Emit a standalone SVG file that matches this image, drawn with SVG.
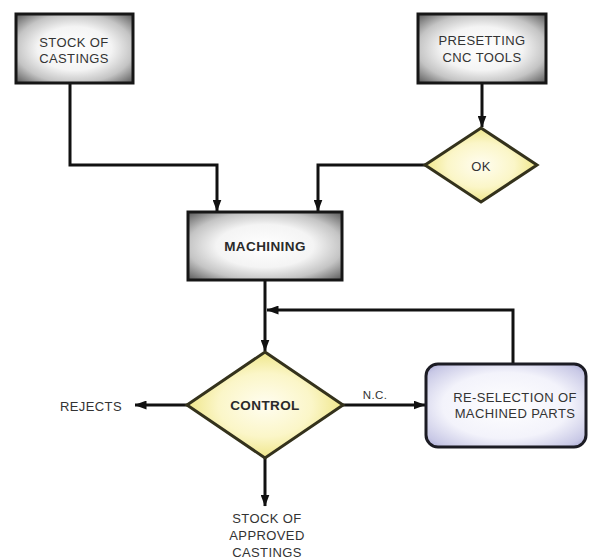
<svg xmlns="http://www.w3.org/2000/svg" width="595" height="559" viewBox="0 0 595 559">
  <defs>
    <radialGradient id="boxFill" cx="0.5" cy="0.5" r="0.7">
      <stop offset="0" stop-color="#ffffff"/>
      <stop offset="0.45" stop-color="#f4f4f4"/>
      <stop offset="0.72" stop-color="#c4c4c4"/>
      <stop offset="1" stop-color="#5a5a5a"/>
    </radialGradient>
    <radialGradient id="diamondFill" cx="0.5" cy="0.5" r="0.5">
      <stop offset="0" stop-color="#fffdf0"/>
      <stop offset="0.6" stop-color="#fbf6c8"/>
      <stop offset="1" stop-color="#efe68a"/>
    </radialGradient>
    <radialGradient id="blueFill" cx="0.5" cy="0.5" r="0.72">
      <stop offset="0" stop-color="#ffffff"/>
      <stop offset="0.55" stop-color="#f3f3fb"/>
      <stop offset="0.85" stop-color="#c9c9e6"/>
      <stop offset="1" stop-color="#9a9acb"/>
    </radialGradient>
    <marker id="arrow" viewBox="0 0 12 9" refX="11.5" refY="4.5" markerWidth="12" markerHeight="9" markerUnits="userSpaceOnUse" orient="auto">
      <path d="M0,0 L12,4.5 L0,9 Z" fill="#111"/>
    </marker>
  </defs>
  <style>
    .box { fill: url(#boxFill); stroke: #161616; stroke-width: 3; }
    .dia { fill: url(#diamondFill); stroke: #34321c; stroke-width: 3; stroke-linejoin: miter; }
    .blue { fill: url(#blueFill); stroke: #1c1c24; stroke-width: 3; }
    .lbl { font-family: "Liberation Sans", Arial, sans-serif; font-size: 13px; fill: #333; text-anchor: middle; dominant-baseline: central; letter-spacing: 0.4px; }
    .bold { font-weight: bold; font-size: 13.5px; fill: #2a2a2a; }
    .wire { fill: none; stroke: #111; stroke-width: 3; }
    .arr { marker-end: url(#arrow); }
  </style>

  <rect width="595" height="559" fill="#ffffff"/>

  <!-- connectors -->
  <g id="connectors">
    <path class="wire arr" d="M70,83 V165 H217 V211"/>
    <path class="wire arr" d="M482,83 V127"/>
    <path class="wire arr" d="M425,165 H318 V211"/>
    <path class="wire arr" d="M265,280 V351"/>
    <path class="wire arr" d="M513,364 V310 H267"/>
    <path class="wire arr" d="M187,405 H135"/>
    <path class="wire arr" d="M343,405 H425"/>
    <path class="wire arr" d="M265,458 V506"/>
    <text class="lbl" x="375" y="395" style="font-size:11.5px">N.C.</text>
  </g>

  <g id="stock-castings">
    <rect class="box" x="16" y="14" width="117" height="69"/>
    <text class="lbl" x="74" y="42">STOCK OF</text>
    <text class="lbl" x="74" y="58">CASTINGS</text>
  </g>

  <g id="presetting">
    <rect class="box" x="418" y="14" width="128" height="69"/>
    <text class="lbl" x="482" y="40">PRESETTING</text>
    <text class="lbl" x="482" y="57">CNC TOOLS</text>
  </g>

  <g id="ok">
    <polygon class="dia" points="481,128 537,165 481,202 425,165"/>
    <text class="lbl" x="481" y="166">OK</text>
  </g>

  <g id="machining">
    <rect class="box" x="188" y="212" width="154" height="68"/>
    <text class="lbl bold" x="265" y="246">MACHINING</text>
  </g>

  <g id="control">
    <polygon class="dia" points="265,352 343,405 265,458 187,405"/>
    <text class="lbl bold" x="265" y="405">CONTROL</text>
  </g>

  <g id="reselection">
    <rect class="blue" x="426" y="364" width="160" height="83" rx="12" ry="12"/>
    <text class="lbl" x="515" y="397">RE-SELECTION  OF</text>
    <text class="lbl" x="515" y="413">MACHINED PARTS</text>
  </g>

  <g id="rejects">
    <text class="lbl" x="91" y="406">REJECTS</text>
  </g>

  <g id="approved">
    <text class="lbl" x="267" y="518">STOCK OF</text>
    <text class="lbl" x="267" y="535">APPROVED</text>
    <text class="lbl" x="267" y="552">CASTINGS</text>
  </g>
</svg>
